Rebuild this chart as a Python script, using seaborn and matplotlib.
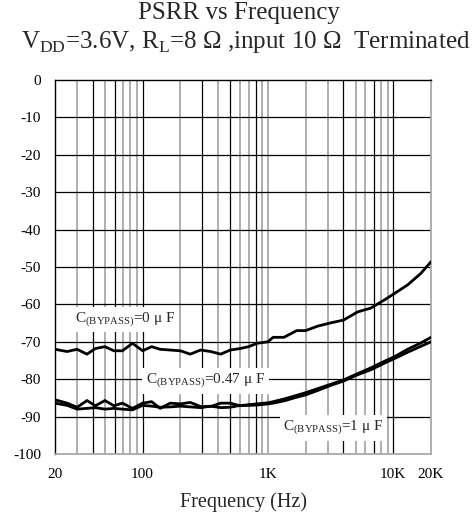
import numpy as np
import pandas as pd
import matplotlib
matplotlib.use("Agg")
import matplotlib.pyplot as plt
import seaborn as sns

# ===== data =====
freq_hz = [20, 25, 30, 36, 42, 50, 59, 69, 83, 100, 118, 138, 166, 200, 240, 290,
           350, 420, 500, 600, 700, 820, 1000, 1100, 1340, 1700, 2000, 2500, 3200,
           4000, 5200, 6600, 8500, 10200, 13000, 16600, 20000]

psrr_0uF = [-72.0, -72.6, -72.0, -73.3, -71.8, -71.3, -72.4, -72.4, -70.4, -72.4,
            -71.3, -72.0, -72.2, -72.4, -73.3, -72.2, -72.6, -73.3, -72.2, -71.8,
            -71.3, -70.4, -70.0, -68.8, -68.8, -67.0, -67.0, -65.8, -64.9, -64.2,
            -62.0, -61.0, -58.8, -57.1, -54.8, -51.7, -48.6]

psrr_047uF = [-85.5, -86.4, -87.5, -85.7, -87.1, -85.7, -87.1, -86.4, -87.8, -86.4,
              -86.0, -87.8, -86.4, -86.6, -86.2, -87.3, -87.3, -86.4, -86.4, -87.1,
              -86.8, -86.6, -86.3, -86.0, -85.3, -84.3, -83.6, -82.5, -81.3, -80.2,
              -78.5, -77.0, -75.2, -74.0, -72.0, -70.3, -68.8]

psrr_1uF = [-86.4, -87.0, -88.0, -87.8, -87.6, -88.0, -87.8, -88.0, -88.2, -87.0,
            -87.2, -87.5, -87.4, -87.2, -87.4, -87.6, -87.2, -87.6, -87.5, -87.0,
            -87.0, -86.9, -86.6, -86.4, -85.8, -84.8, -84.2, -83.0, -81.6, -80.5,
            -78.8, -77.5, -75.7, -74.5, -72.8, -71.2, -70.0]

x_ticks = [20, 100, 1000, 10000, 20000]
x_labels = ["20", "100", "1K", "10K", "20K"]
y_ticks = list(range(0, -101, -10))
y_labels = [str(v) for v in y_ticks]

# ===== style =====
sns.set_theme(style="white")
plt.rcParams["font.family"] = ["Liberation Serif", "DejaVu Serif"]
plt.rcParams["mathtext.fontset"] = "custom"
plt.rcParams["mathtext.rm"] = "Liberation Serif"
plt.rcParams["axes.unicode_minus"] = False

fig = plt.figure(figsize=(4.77, 5.15), dpi=100)
ax = fig.add_axes([0.1153, 0.1184, 0.7883, 0.7263])

# vertical grid: the scan shows some lines dark and some light
dark_lines = [40, 60, 100, 300, 500, 800, 4000, 7000, 10000]
for e in range(1, 5):
    for m in range(1, 10):
        f = m * 10 ** e
        if 20 < f < 20000:
            if f in dark_lines:
                ax.axvline(f, color="black", lw=0.9, zorder=1)
            else:
                ax.axvline(f, color="#a8a8a8", lw=1.3, zorder=1)
for v in y_ticks[1:-1]:
    ax.axhline(v, color="black", lw=0.9, zorder=1)

df = pd.DataFrame({"freq": freq_hz, "c0": psrr_0uF, "c047": psrr_047uF, "c1": psrr_1uF})
for col in ["c0", "c047", "c1"]:
    sns.lineplot(data=df, x="freq", y=col, ax=ax, color="black", lw=2.0, zorder=3)

ax.set_xscale("log")
ax.set_xlim(20, 20000)
ax.set_ylim(-100, 0)
ax.set_xticks(x_ticks)
ax.set_xticklabels(x_labels)
ax.xaxis.set_minor_locator(matplotlib.ticker.NullLocator())
ax.set_yticks(y_ticks)
ax.set_yticklabels(y_labels)
ax.tick_params(axis="both", length=0, labelsize=11, colors="black")
ax.tick_params(axis="y", pad=10)
ax.tick_params(axis="x", pad=10)
ax.set_xlabel("Frequency (Hz)", fontsize=14.5, labelpad=8)
ax.set_ylabel("")

for side in ["left", "top"]:
    ax.spines[side].set_color("black")
    ax.spines[side].set_linewidth(1.0)
for side in ["right", "bottom"]:
    ax.spines[side].set_color("#a8a8a8")
    ax.spines[side].set_linewidth(1.3)

box = dict(facecolor="white", edgecolor="none", pad=2.5)
ax.text(29, -64, r"C$_{\mathregular{(BYPASS)}}$=0 μ F", fontsize=11, va="center",
        ha="left", bbox=box, zorder=4)
ax.text(106, -80.5, r"C$_{\mathregular{(BYPASS)}}$=0.47 μ F", fontsize=11, va="center",
        ha="left", bbox=box, zorder=4)
ax.text(1330, -93, r"C$_{\mathregular{(BYPASS)}}$=1 μ F", fontsize=11, va="center",
        ha="left", bbox=box, zorder=4)

fig.text(0.5, 0.975, "PSRR vs Frequency", fontsize=18, ha="center", va="center")
fig.text(0.515, 0.918, r"V$_{\mathregular{DD}}$=3.6V, R$_{\mathregular{L}}$=8 Ω ,input 10 Ω  Terminated",
         fontsize=18, ha="center", va="center")

fig.savefig("out.png", dpi=100)
